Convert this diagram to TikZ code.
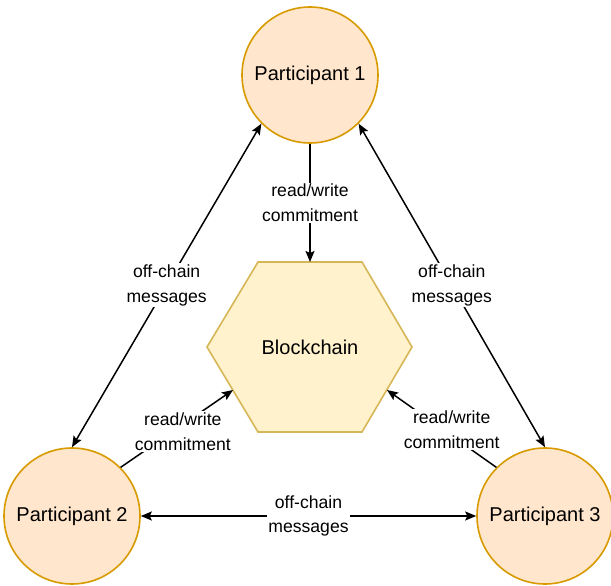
\documentclass[tikz,border=0pt]{standalone}
\usepackage{fontspec}
\setmainfont{Liberation Sans}
\usetikzlibrary{arrows.meta}
\definecolor{partfill}{HTML}{FFE6CC}
\definecolor{partline}{HTML}{D79B00}
\definecolor{chainfill}{HTML}{FFF2CC}
\definecolor{chainline}{HTML}{D6B656}

\begin{document}
\begin{tikzpicture}[x=1pt, y=-1pt, >={Stealth[length=11pt, width=9pt, inset=2pt]}, line width=1.5pt,
  party/.style={draw=partline, fill=partfill, circle, minimum size=136pt, inner sep=0pt, line width=1.6pt, font=\fontsize{20}{22}\selectfont},
  edgetext/.style={fill=white, align=center, inner sep=1.5pt, font=\fontsize{17.6}{24.5}\selectfont}]

\useasboundingbox (0,0) rectangle (611,586);

% Participants as circles
\node (P1) [party] at (310,75) {Participant 1};
\node (P2) [party] at (72,516) {Participant 2};
\node (P3) [party] at (545,516) {Participant 3};

% Blockchain hexagon
\draw[draw=chainline, fill=chainfill, line width=1.6pt]
  (207,347) -- (258,262) -- (362,262) -- (412,347) -- (362,432) -- (258,432) -- cycle;
\node (B) at (310,347) {\fontsize{20}{22}\selectfont Blockchain};
\coordinate (BT) at (310,262);
\coordinate (BL) at (233,390);
\coordinate (BR) at (387,390);

% Edges
\draw[->] (P1.south) -- (BT) node[midway, edgetext] {read/write\\commitment};
\draw[->] (P2.45) -- (BL) node[midway, edgetext, xshift=6pt, yshift=-3pt] {read/write\\commitment};
\draw[->] (P3.135) -- (BR) node[midway, edgetext, xshift=10pt, yshift=-1pt] {read/write\\commitment};
\draw[<->] (P2.north) -- (P1.225) node[midway, edgetext] {off-chain\\messages};
\draw[<->] (P1.-45) -- (P3.north) node[midway, edgetext] {off-chain\\messages};
\draw[<->] (P2.east) -- (P3.west) node[midway, edgetext] {off-chain\\messages};

\end{tikzpicture}
\end{document}
